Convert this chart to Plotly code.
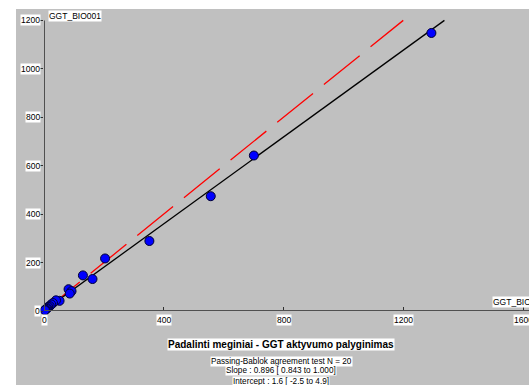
import plotly.graph_objects as go

# data
x_vals = [1294, 701, 557, 352, 204, 130, 162, 82, 92, 86, 52, 40, 30, 24, 19, 14, 11, 8, 5, 3]
y_vals = [1148, 642, 474, 289, 217, 147, 132, 90, 82, 72, 42, 44, 33, 27, 20, 17, 12, 9, 6, 3]
slope = 0.896
intercept = 1.6
x_ticks = [0, 400, 800, 1200, 1600]
y_ticks = [0, 200, 400, 600, 800, 1000, 1200]
x_title = "GGT_BIO001"
y_title = "GGT_BIO001"
title = "Padalinti meginiai - GGT aktyvumo palyginimas"
sub_lines = ["Passing-Bablok agreement test N = 20",
             "Slope : 0.896 [ 0.843 to 1.000]",
             "Intercept : 1.6 [ -2.5 to 4.9]"]

W, H = 529, 385
ml, mr, mt, mb = 44, 0, 9, 74
pw = W - ml - mr
ph = H - mt - mb
xmax = 1620
ymax = 1247
GRAY = "#C0C0C0"
FONT = "Liberation Sans Narrow, Liberation Sans, Arial, sans-serif"

def px_x(p):
    return (p - ml) / pw

def px_y(p):
    return (H - mb - p) / ph

fig = go.Figure()

# identity line
ident_end = max(y_ticks)
fig.add_trace(go.Scatter(x=[0, ident_end], y=[0, ident_end], mode="lines",
                         line=dict(color="#FF0000", width=1.3, dash="46px,14px"),
                         hoverinfo="skip", showlegend=False))
# regression line
x_end = (max(y_ticks) - intercept) / slope
fig.add_trace(go.Scatter(x=[0, x_end], y=[intercept, intercept + slope * x_end], mode="lines",
                         line=dict(color="#000000", width=1.3),
                         hoverinfo="skip", showlegend=False))
# points
fig.add_trace(go.Scatter(x=x_vals, y=y_vals, mode="markers",
                         marker=dict(color="#0000FF", size=9, line=dict(color="#000033", width=1)),
                         cliponaxis=False, showlegend=False))

shapes = [
    dict(type="rect", xref="paper", yref="paper", x0=px_x(16), x1=px_x(W + 5),
         y0=px_y(H + 5), y1=px_y(9), fillcolor=GRAY, line=dict(width=0), layer="below"),
    dict(type="line", xref="x", yref="y", x0=0, x1=xmax, y0=0, y1=0,
         line=dict(color="#505050", width=2)),
    dict(type="line", xref="x", yref="y", x0=0, x1=0, y0=0, y1=max(y_ticks),
         line=dict(color="#505050", width=2)),
]

annotations = []
for t in y_ticks:
    annotations.append(dict(x=0, y=t, xref="x", yref="y", text=str(t), showarrow=False,
                            xanchor="right", yanchor="middle", xshift=-3,
                            font=dict(family=FONT, size=8.5, color="black"),
                            bgcolor="white", borderpad=0))
for t in x_ticks:
    annotations.append(dict(x=t, y=0, xref="x", yref="y", text=str(t), showarrow=False,
                            xanchor="center", yanchor="top", yshift=-3,
                            font=dict(family=FONT, size=8.5, color="black"),
                            bgcolor="white", borderpad=0))
annotations.append(dict(x=px_x(48), y=max(y_ticks), xref="paper", yref="y", text=y_title,
                        showarrow=False, xanchor="left", yanchor="middle", yshift=4,
                        font=dict(family=FONT, size=8.5, color="black"),
                        bgcolor="white", borderpad=0))
annotations.append(dict(x=px_x(492), y=0, xref="paper", yref="y", text=x_title,
                        showarrow=False, xanchor="left", yanchor="bottom", yshift=3,
                        font=dict(family=FONT, size=8.5, color="black"),
                        bgcolor="white", borderpad=0))
annotations.append(dict(x=px_x(281), y=px_y(344), xref="paper", yref="paper", text="<b>" + title + "</b>",
                        showarrow=False, xanchor="center", yanchor="middle",
                        font=dict(family=FONT, size=10, color="black"),
                        bgcolor="white", borderpad=0))
for i, s in enumerate(sub_lines):
    annotations.append(dict(x=px_x(281), y=px_y(361 + 10 * i), xref="paper", yref="paper", text=s,
                            showarrow=False, xanchor="center", yanchor="middle",
                            font=dict(family=FONT, size=8.2, color="black"),
                            bgcolor="white", borderpad=0))

fig.update_layout(
    width=W, height=H,
    margin=dict(l=ml, r=mr, t=mt, b=mb, pad=0),
    paper_bgcolor="white", plot_bgcolor="rgba(0,0,0,0)",
    xaxis=dict(range=[0, xmax], showgrid=False, zeroline=False, showline=False,
               tickvals=x_ticks, showticklabels=False, ticks="inside", ticklen=4,
               tickcolor="#303030", tickwidth=1),
    yaxis=dict(range=[0, ymax], showgrid=False, zeroline=False, showline=False,
               tickvals=y_ticks, showticklabels=False, ticks="outside", ticklen=3,
               tickcolor="#303030", tickwidth=1),
    shapes=shapes, annotations=annotations, showlegend=False,
)

fig.write_html("out.html")
